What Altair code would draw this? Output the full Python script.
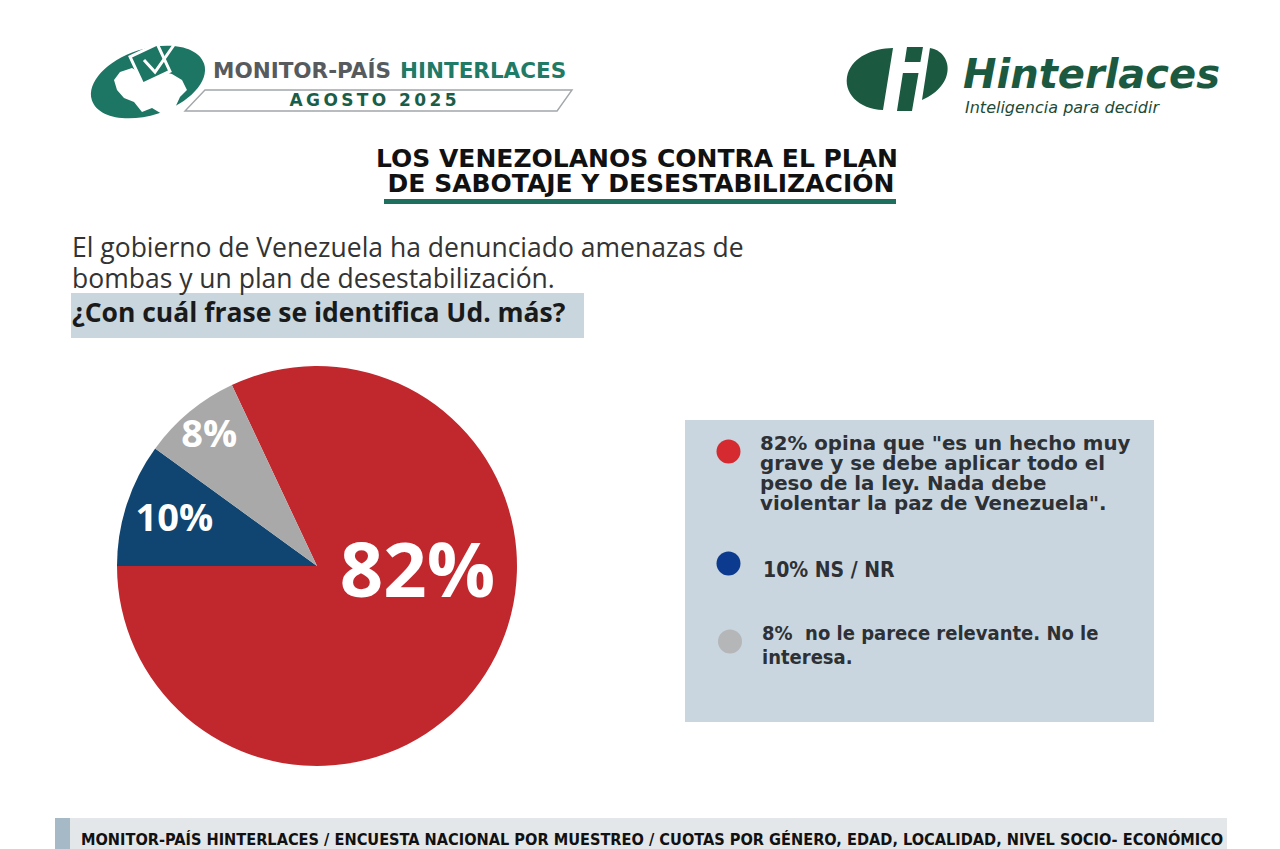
import math
import altair as alt
import pandas as pd

# ---------------- data ----------------
categories = [
    "Es un hecho muy grave y se debe aplicar todo el peso de la ley",
    "NS/NR",
    "No le parece relevante. No le interesa",
]
values = [82, 10, 8]
stack_order = [3, 1, 2]
slice_colors = ["#c1282e", "#0f4570", "#a9a9a9"]
dot_colors = ["#d52a30", "#0c3a8e", "#b4b6b8"]

title_lines = ["LOS VENEZOLANOS CONTRA EL PLAN", "DE SABOTAJE Y DESESTABILIZACIÓN"]
question_lines = ["El gobierno de Venezuela ha denunciado amenazas de",
                  "bombas y un plan de desestabilización."]
question_bold = "¿Con cuál frase se identifica Ud. más?"
legend_1 = ['82% opina que "es un hecho muy', 'grave y se debe aplicar todo el',
            'peso de la ley. Nada debe', 'violentar la paz de Venezuela".']
legend_2 = "10% NS / NR"
legend_3 = ["8%\u00a0 no le parece relevante. No le", "interesa."]
footer = ("MONITOR-PAÍS HINTERLACES / ENCUESTA NACIONAL POR MUESTREO / CUOTAS POR "
          "GÉNERO, EDAD, LOCALIDAD, NIVEL SOCIO- ECONÓMICO")

pie_df = pd.DataFrame({"category": categories, "value": values,
                       "order": stack_order})

one = pd.DataFrame({"a": [0]})
OFF = 8  # page margin


def X(v):
    return alt.value(v - OFF)


def Y(v):
    return alt.value(v - OFF)


def txt(x, y, text, **kw):
    kw.setdefault("baseline", "alphabetic")
    return alt.Chart(one).mark_text(text=text, **kw).encode(x=X(x), y=Y(y))


def rect(x0, y0, x1, y1, color):
    return alt.Chart(one).mark_rect(color=color).encode(
        x=X(x0), x2=X(x1), y=Y(y0), y2=Y(y1))


def pt(x, y, shape, size, **kw):
    return alt.Chart(one).mark_point(shape=shape, size=size, **kw).encode(
        x=X(x), y=Y(y))


layers = []

# ---------------- left logo ----------------
ellipse = "M -1 0 A 1 0.56 0 1 0 1 0 A 1 0.56 0 1 0 -1 0 Z"
layers.append(pt(148, 82, ellipse, 118 ** 2, filled=True, fill="#1d7563",
                 strokeWidth=0, opacity=1, angle=342))
venezuela = ("M -1 -0.6 L -0.6 -0.733 L -0.267 -0.533 L 0.233 -0.667 L 0.733 -0.533 "
             "L 1.067 -0.333 L 1.233 0 L 1 0.233 L 0.8 0.667 L 0.4 0.8 L 0.067 0.6 "
             "L -0.267 0.733 L -0.533 0.4 L -0.867 0.267 L -1.1 0 L -1.2 -0.333 Z")
layers.append(pt(150, 90, venezuela, 60 ** 2, filled=True, fill="white",
                 strokeWidth=0, opacity=1))
layers.append(pt(150, 64, "square", 30 ** 2, filled=True, fill="#1d7563",
                 stroke="white", strokeWidth=3, opacity=1, angle=335))
check = "M -0.7 0 L -0.15 0.6 L 0.9 -0.9"
layers.append(pt(158, 60, check, 40 ** 2, filled=False, stroke="white",
                 strokeWidth=3, opacity=1))
layers.append(txt(213, 78, "MONITOR-PAÍS", font="DejaVu Sans",
                  fontWeight="bold", fontSize=21.5, color="#575b5e", align="left"))
layers.append(txt(400, 78, "HINTERLACES", font="DejaVu Sans", fontWeight="bold",
                  fontSize=21.5, color="#1f7a66", align="left"))
box = "M -0.897 -0.054 L 0.995 -0.054 L 0.918 0.054 L -1 0.054 Z"
layers.append(pt(379, 100.5, box, 388 ** 2, filled=False, stroke="#a2a7aa",
                 strokeWidth=1.4, opacity=1))
layers.append(txt(373, 106, "\u2009".join("AGOSTO 2025"), font="DejaVu Sans",
                  fontWeight="bold", fontSize=17, color="#1b5e48", align="center"))

# ---------------- right logo ----------------
hicon = ("M -0.127 -0.564 L -0.309 0.564 C -0.75 0.55 -1.05 0.25 -0.95 -0.1 "
         "C -0.85 -0.4 -0.5 -0.56 -0.127 -0.564 Z "
         "M 0.127 -0.582 L 0.418 -0.582 L 0.371 -0.309 L 0.085 -0.309 Z "
         "M 0.053 -0.109 L 0.337 -0.109 L 0.218 0.582 L -0.055 0.582 Z "
         "M 0.545 -0.564 C 0.95 -0.5 1.05 0.1 0.4 0.382 Z")
layers.append(pt(900, 79, hicon, 110 ** 2, filled=True, fill="#1b5a40",
                 strokeWidth=0, opacity=1))
layers.append(txt(963, 88, "Hinterlaces", font="DejaVu Sans", fontWeight="bold",
                  fontStyle="oblique", fontSize=40, color="#1b5a40", align="left"))
layers.append(txt(965, 113, "Inteligencia para decidir", font="DejaVu Sans",
                  fontStyle="oblique", fontSize=16, color="#1d4b38", align="left"))

# ---------------- title ----------------
layers.append(txt(637, 167, title_lines[0], font="DejaVu Sans", fontWeight="bold",
                  fontSize=25, color="#111111", align="center"))
layers.append(txt(641, 192, title_lines[1], font="DejaVu Sans", fontWeight="bold",
                  fontSize=25, color="#111111", align="center"))
layers.append(rect(384, 199, 896, 204, "#1f6f5f"))

# ---------------- question ----------------
layers.append(rect(71, 293, 584, 338, "#c9d6de"))
layers.append(txt(72, 257, question_lines[0], font="Open Sans", fontSize=26.5,
                  color="#333333", align="left"))
layers.append(txt(72, 288, question_lines[1], font="Open Sans", fontSize=26.5,
                  color="#333333", align="left"))
layers.append(txt(72, 322, question_bold, font="Open Sans", fontWeight="bold",
                  fontSize=26.5, color="#1a1a1a", align="left"))

# ---------------- pie ----------------
theta_scale = alt.Scale(domain=[0, 100], range=[1.5 * math.pi, 3.5 * math.pi])
color_scale = alt.Scale(domain=categories, range=slice_colors)
cx, cy = 317, 566
pie = alt.Chart(pie_df).mark_arc(outerRadius=200, strokeWidth=0).encode(
    theta=alt.Theta("value:Q", stack=True, scale=theta_scale),
    color=alt.Color("category:N", scale=color_scale, legend=None),
    order=alt.Order("order:Q"),
    x=X(cx), y=Y(cy),
)
layers.append(pie)

label_base = alt.Chart(pie_df).transform_window(
    cum="sum(value)", sort=[alt.SortField("order")]
).transform_calculate(
    mid="datum.cum - datum.value / 2", label="datum.value + '%'"
)
label_specs = [
    (categories[0], 100, 76, 16, -46),
    (categories[1], 150, 38, 0, 0),
    (categories[2], 169, 38, 0, 0),
]
for cat, r, fs, dx, dy in label_specs:
    layers.append(label_base.transform_filter(alt.datum.category == cat).mark_text(
        radius=r, font="Open Sans", fontWeight="bold", fontSize=fs, color="white",
        align="center", baseline="middle", dx=dx, dy=dy
    ).encode(theta=alt.Theta("mid:Q", stack=False, scale=theta_scale),
             text="label:N", x=X(cx), y=Y(cy)))

# ---------------- legend box ----------------
layers.append(rect(685, 420, 1154, 722, "#c9d6df"))
dot_pos = [(728.5, 451.5), (728.5, 563.5), (730, 641.5)]
for (dx_, dy_), c in zip(dot_pos, dot_colors):
    layers.append(pt(dx_, dy_, "circle", 575, filled=True, color=c, opacity=1,
                     strokeWidth=0))
layers.append(txt(760, 450, legend_1, font="DejaVu Sans", fontWeight="bold",
                  fontSize=19.8, lineHeight=20, color="#2d3035", align="left"))
layers.append(txt(763, 577, legend_2, font="DejaVu Sans Condensed", fontWeight="bold",
                  fontSize=21, color="#2d3035", align="left"))
layers.append(txt(762, 640, legend_3, font="DejaVu Sans Condensed", fontWeight="bold",
                  fontSize=20, lineHeight=24, color="#2d3035", align="left"))

# ---------------- footer ----------------
layers.append(rect(55, 818, 1227, 849, "#e3e7ea"))
layers.append(rect(55, 818, 70, 849, "#a6b9c7"))
layers.append(txt(81, 845, footer, font="Liberation Sans Narrow, DejaVu Sans Condensed",
                  fontWeight="bold", fontSize=16.2, color="#111111", align="left"))

chart = alt.layer(*layers).properties(
    width=1264, height=841, padding=0, autosize="none", background="white"
).configure_view(stroke=None)

chart.save("out.html", embed_options={"renderer": "svg", "actions": False})
